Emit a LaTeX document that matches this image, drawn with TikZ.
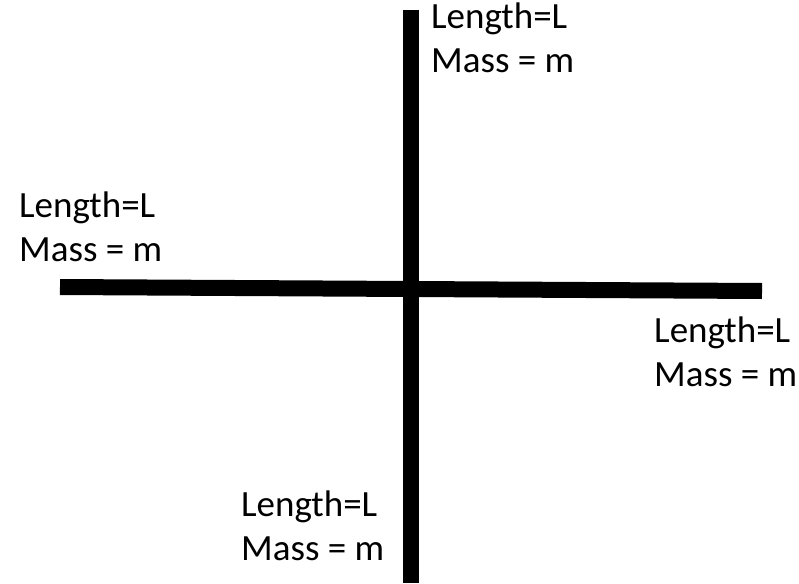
\documentclass[tikz,border=0pt]{standalone}
\usepackage{fontspec}
\setmainfont{Carlito}
\tikzset{
  rod/.style={line width=16pt},
  lbl/.style={anchor=base west,inner sep=0pt,font=\fontsize{37}{44}\selectfont}
}
\begin{document}
\begin{tikzpicture}[x=1pt,y=-1pt]
\useasboundingbox (0,0) rectangle (799,583);

\draw[rod] (411,10)--(411,583);
\draw[rod] (60,287)--(762,291);

\node[lbl] (toplen) at (431,29) {Length=L};
\node[lbl] (topmass) at ([yshift=-44pt]toplen.base west) {Mass = m};

\node[lbl] (leftlen) at (19,217) {Length=L};
\node[lbl] (leftmass) at ([yshift=-44pt]leftlen.base west) {Mass = m};

\node[lbl] (rightlen) at (654,342) {Length=L};
\node[lbl] (rightmass) at ([yshift=-44pt]rightlen.base west) {Mass = m};

\node[lbl] (botlen) at (241,516) {Length=L};
\node[lbl] (botmass) at ([yshift=-44pt]botlen.base west) {Mass = m};
\end{tikzpicture}
\end{document}
